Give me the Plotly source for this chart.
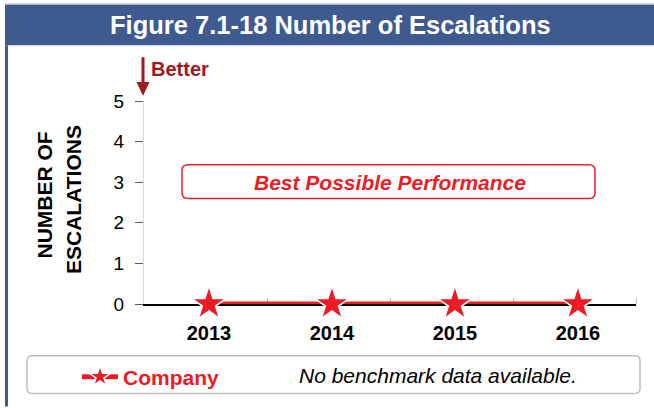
import plotly.graph_objects as go

# ---- data ----
years = ["2013", "2014", "2015", "2016"]
company = [0, 0, 0, 0]
y_ticks = [0, 1, 2, 3, 4, 5]
series_name = "Company"
title_text = "Figure 7.1-18 Number of Escalations"
y_title_lines = ["NUMBER OF", "ESCALATIONS"]
bpp_text = "Best Possible Performance"
bench_text = "No benchmark data available."
better_text = "Better"

W, H = 654, 408
L, R, T, B = 144, 18, 101, 103
PW, PH = W - L - R, H - T - B

RED = "#ED1C24"
DARKRED = "#A0191E"
BLUE = "#3E5A8E"
FONT = "Arial, Liberation Sans, sans-serif"


def px(x):
    return (x - L) / PW


def py(y):
    return (H - B - y) / PH


def rrect(x0, y0, x1, y1, r):
    rx, ry = r / PW, r / PH
    X0, X1 = px(x0), px(x1)
    Y0, Y1 = py(y1), py(y0)  # paper y bottom/top
    return (f"M{X0+rx},{Y0} L{X1-rx},{Y0} Q{X1},{Y0} {X1},{Y0+ry} "
            f"L{X1},{Y1-ry} Q{X1},{Y1} {X1-rx},{Y1} L{X0+rx},{Y1} "
            f"Q{X0},{Y1} {X0},{Y1-ry} L{X0},{Y0+ry} Q{X0},{Y0} {X0+rx},{Y0} Z")


xs = list(range(len(years)))
x_lo = -0.528
x_hi = x_lo + len(years)

fig = go.Figure()
fig.add_trace(go.Scatter(
    x=xs, y=company, name=series_name, mode="lines+markers",
    line=dict(color=RED, width=5),
    marker=dict(symbol="star", size=26, color=RED, line=dict(color="white", width=1.5)),
    cliponaxis=False, showlegend=True,
))

shapes = [
    # header bar
    dict(type="rect", xref="paper", yref="paper", x0=px(5), x1=px(654), y0=py(45), y1=py(4),
         fillcolor=BLUE, line=dict(width=0), layer="below"),
    dict(type="line", xref="paper", yref="paper", x0=px(5), x1=px(654), y0=py(3.8), y1=py(3.8),
         line=dict(color="#A9B5C9", width=1.5)),
    # left border
    dict(type="line", xref="paper", yref="paper", x0=px(6.5), x1=px(6.5), y0=py(45), y1=py(408),
         line=dict(color=BLUE, width=3)),
    # best possible performance box
    dict(type="path", xref="paper", yref="paper", path=rrect(182, 165, 595, 199, 6),
         fillcolor="white", line=dict(color=RED, width=1.5)),
    # legend box
    dict(type="path", xref="paper", yref="paper", path=rrect(27, 357, 640, 395, 5),
         fillcolor="white", line=dict(color="#BFBFBF", width=1.5), layer="below"),
    # better arrow shaft
    dict(type="line", xref="paper", yref="paper", x0=px(143), x1=px(143), y0=py(57), y1=py(84),
         line=dict(color=DARKRED, width=3)),
    # arrow head
    dict(type="path", xref="paper", yref="paper",
         path=f"M{px(136.5)},{py(82)} L{px(149.5)},{py(82)} L{px(143)},{py(96)} Z",
         fillcolor=DARKRED, line=dict(width=0)),
]

annotations = [
    dict(text=f"<b>{title_text}</b>", xref="paper", yref="paper", x=px(330), y=py(25),
         showarrow=False, font=dict(family=FONT, size=25.5, color="white"),
         xanchor="center", yanchor="middle"),
    dict(text=f"<b><i>{bpp_text}</i></b>", xref="paper", yref="paper", x=px(390), y=py(183),
         showarrow=False, font=dict(family=FONT, size=21, color=RED),
         xanchor="center", yanchor="middle"),
    dict(text=f"<b>{better_text}</b>", xref="paper", yref="paper", x=px(149), y=py(69),
         showarrow=False, font=dict(family=FONT, size=20, color=DARKRED),
         xanchor="left", yanchor="middle"),
    dict(text=f"<i>{bench_text}</i>", xref="paper", yref="paper", x=px(438), y=py(377),
         showarrow=False, font=dict(family=FONT, size=21, color="black"),
         xanchor="center", yanchor="middle"),
    dict(text=f"<b>{y_title_lines[0]}</b>", xref="paper", yref="paper", x=px(45), y=py(196),
         showarrow=False, textangle=-90, font=dict(family=FONT, size=21, color="black"),
         xanchor="center", yanchor="middle"),
    dict(text=f"<b>{y_title_lines[1]}</b>", xref="paper", yref="paper", x=px(73.5), y=py(200),
         showarrow=False, textangle=-90, font=dict(family=FONT, size=21, color="black"),
         xanchor="center", yanchor="middle"),
]

fig.update_layout(
    width=W, height=H,
    margin=dict(l=L, r=R, t=T, b=B, pad=0),
    paper_bgcolor="white", plot_bgcolor="white",
    font=dict(family=FONT, color="black"),
    shapes=shapes, annotations=annotations,
    showlegend=True,
    legend=dict(x=px(77), y=py(377), xanchor="left", yanchor="middle",
                bgcolor="rgba(0,0,0,0)", borderwidth=0, itemwidth=36,
                font=dict(family=FONT, size=21, color=RED, weight="bold")),
    xaxis=dict(
        range=[x_lo, x_hi], tickmode="array", tickvals=xs, ticktext=years,
        showgrid=False, zeroline=False, ticks="",
        showline=True, linecolor="black", linewidth=1.5, layer="below traces",
        tickfont=dict(family=FONT, size=20, color="black", weight="bold"),
        ticklabelstandoff=10,
        minor=dict(tickmode="array", tickvals=[x_lo + k for k in range(1, len(years) + 1)],
                   ticks="inside", ticklen=6, tickcolor="#BFBFBF", tickwidth=1, showgrid=False),
        fixedrange=True,
    ),
    yaxis=dict(
        range=[0, 5], tickmode="array", tickvals=y_ticks,
        showgrid=False, zeroline=False,
        showline=True, linecolor="#D9D9D9", linewidth=1,
        ticks="outside", ticklen=8, tickcolor="#595959", tickwidth=1,
        tickfont=dict(family=FONT, size=19, color="black"),
        ticklabelstandoff=7,
        fixedrange=True,
    ),
)

fig.write_html(
    "out.html",
    config={"displayModeBar": False},
    post_script="document.body.style.margin='0';document.body.style.overflow='hidden';",
)
